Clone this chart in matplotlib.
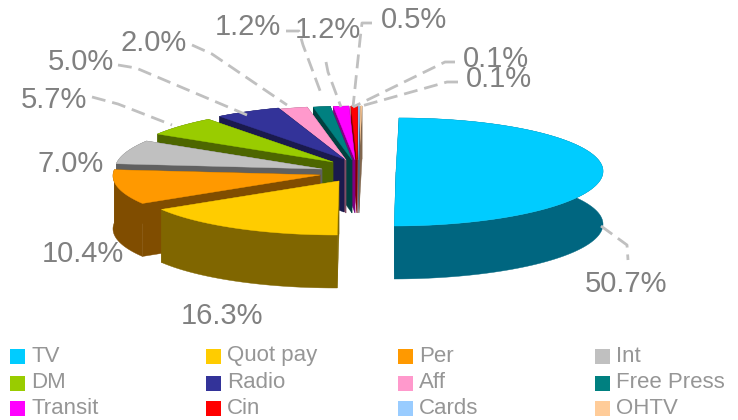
import numpy as np
import matplotlib
matplotlib.use('Agg')
import matplotlib.pyplot as plt
from matplotlib.patches import Polygon, Rectangle

plt.rcParams['font.family'] = ['Liberation Sans', 'DejaVu Sans']

categories = ['TV', 'Quot pay', 'Per', 'Int', 'DM', 'Radio', 'Aff', 'Free Press',
              'Transit', 'Cin', 'Cards', 'OHTV']
shares = [50.7, 16.3, 10.4, 7.0, 5.7, 5.0, 2.0, 1.2, 1.2, 0.5, 0.1, 0.1]
colors = ['#00CCFF', '#FFCC00', '#FF9900', '#C0C0C0', '#99CC00', '#333399',
          '#FF99CC', '#008080', '#FF00FF', '#FF0000', '#99CCFF', '#FFCC99']

# layout, all in image pixels
apex_x = [396, 339, 320, 322, 333, 344, 346, 352, 355, 357, 358, 359]
apex_y = [172, 181, 175, 169, 162, 159, 160, 160, 160, 160, 160, 160]
RX, RY, DEPTH, SKEW = 207, 54, 53, 0.056
# small correction in degrees for the slice boundaries (perspective of the original)
edge_shift = [0, -2.5, -2.5, -2.5, -2, -1.5, -1, -0.5, 0, 0, 0, 0, 0]

label_x = [626, 222, 83, 71, 54, 81, 154, 248, 328, 414, 496, 499]
label_y = [284, 316, 254, 164, 100, 62, 43, 27, 30, 20, 59, 79]

leaders = [
    [(601, 226), (627, 245), (628, 260)],
    [(92, 97), (118, 104), (172, 125)],
    [(118, 65), (136, 68), (247, 115)],
    [(192, 45), (212, 54), (287, 105)],
    [(286, 31), (299, 31), (303, 45), (322, 96)],
    [(326, 62), (328, 72), (341, 107)],
    [(372, 23), (362, 23), (360, 40), (353, 107)],
    [(455, 62), (445, 62), (353, 107)],
    [(458, 82), (447, 82), (358, 107)],
]

legend_cols = [10, 206, 398, 595]
legend_rows = [356, 383, 408]


def darken(c):
    rgb = np.array(matplotlib.colors.to_rgb(c))
    return tuple(rgb * 0.5)


fig = plt.figure(figsize=(7.38, 4.2), dpi=100)
ax = fig.add_axes([0, 0, 1, 1])
ax.set_xlim(0, 738)
ax.set_ylim(420, 0)
ax.axis('off')

edges = np.concatenate([[0], np.cumsum(shares)]) / np.sum(shares) * 360 + np.array(edge_shift)
edges = np.radians(edges)

# back slices first so the front ones cover them
for i in reversed(range(len(shares))):
    th = np.linspace(edges[i], edges[i + 1], max(3, int(shares[i] * 3)))
    xs = apex_x[i] + RX * np.sin(th) + SKEW * RY * np.cos(th)
    ys = apex_y[i] - RY * np.cos(th)
    side = darken(colors[i])
    # outer wall
    wall_x = np.concatenate([xs, xs[::-1]])
    wall_y = np.concatenate([ys, ys[::-1] + DEPTH])
    ax.add_patch(Polygon(np.column_stack([wall_x, wall_y]), closed=True, fc=side, ec=side, lw=0.3))
    # cut faces
    for px, py in ((xs[0], ys[0]), (xs[-1], ys[-1])):
        quad = [(apex_x[i], apex_y[i]), (px, py), (px, py + DEPTH), (apex_x[i], apex_y[i] + DEPTH)]
        ax.add_patch(Polygon(quad, closed=True, fc=side, ec=side, lw=0.3))
    top = np.column_stack([np.concatenate([[apex_x[i]], xs]), np.concatenate([[apex_y[i]], ys])])
    ax.add_patch(Polygon(top, closed=True, fc=colors[i], ec=colors[i], lw=0.3))

for pts in leaders:
    pts = np.array(pts)
    ax.plot(pts[:, 0], pts[:, 1], color='#C0C0C0', lw=2.0, ls=(0, (5, 2.5)), solid_capstyle='butt')

for s, x, y in zip(shares, label_x, label_y):
    ax.text(x, y, f'{s:.1f}%', color='#808080', fontsize=21, ha='center', va='center')

for i, name in enumerate(categories):
    x = legend_cols[i % 4]
    y = legend_rows[i // 4]
    ax.add_patch(Rectangle((x, y - 7.5), 14.5, 15, fc=colors[i], ec='none'))
    ax.text(x + 21, y, name, color='#969696', fontsize=16, ha='left', va='center')

fig.savefig('out.png', dpi=100)
